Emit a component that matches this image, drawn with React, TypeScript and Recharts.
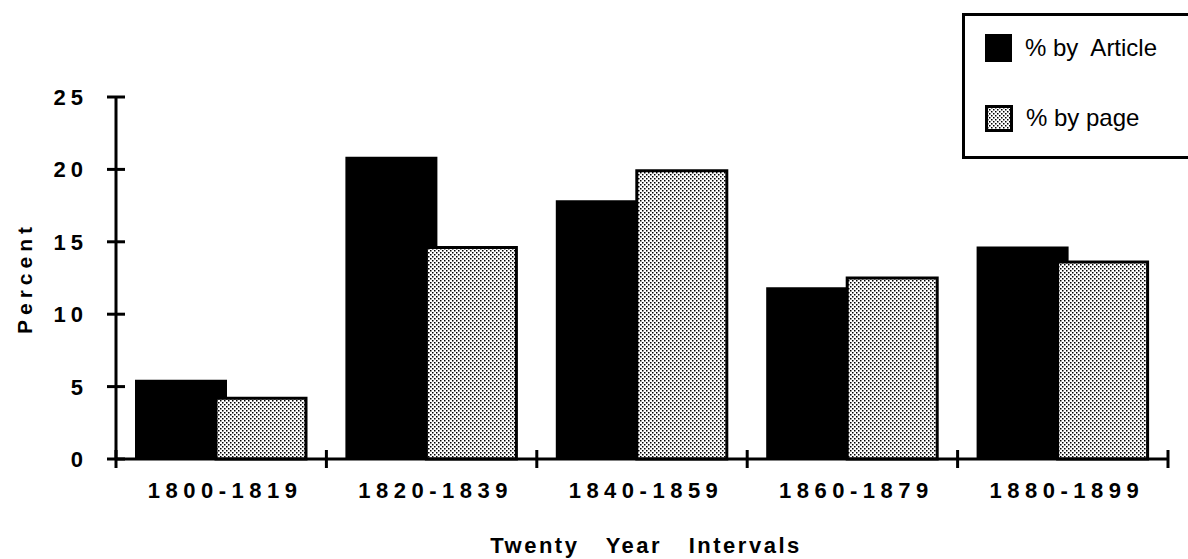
import { Bar, BarChart, Legend, XAxis, YAxis } from "recharts";

const categories = ["1800-1819", "1820-1839", "1840-1859", "1860-1879", "1880-1899"];
const byArticle = [5.4, 20.8, 17.8, 11.8, 14.6];
const byPage = [4.2, 14.6, 19.9, 12.5, 13.6];
const yTicks = [0, 5, 10, 15, 20, 25];

const data = categories.map((interval, i) => ({
  interval,
  article: byArticle[i],
  page: byPage[i],
}));

const W = 1188;
const H = 559;
const margin = { top: 97, right: 20, bottom: 0, left: 0 };
const Y_AXIS_W = 116;
const X_AXIS_H = 100;
const halfBand = (W - Y_AXIS_W - margin.right) / categories.length / 2;

const FONT = "'Liberation Sans', Arial, Helvetica, sans-serif";

function Stipple({ id }: { id: string }) {
  return (
    <pattern id={id} width="4" height="4" patternUnits="userSpaceOnUse">
      <rect width="4" height="4" fill="#fff" />
      <rect x="0" y="0" width="1.5" height="1.5" fill="#000" />
      <rect x="2" y="2" width="1.5" height="1.5" fill="#000" />
    </pattern>
  );
}

function YTick({ x, y, payload }: any) {
  return (
    <g>
      <line x1={x - 9} x2={x + 9} y1={y} y2={y} stroke="#000" strokeWidth={3} />
      <text
        x={x - 28}
        y={y}
        dy="0.36em"
        textAnchor="end"
        fontFamily={FONT}
        fontWeight="bold"
        fontSize={22}
        letterSpacing={5}
        fill="#000"
      >
        {payload.value}
      </text>
    </g>
  );
}

function XTick({ x, y, payload, index }: any) {
  const last = index === categories.length - 1;
  return (
    <g>
      <line x1={x - halfBand} x2={x - halfBand} y1={y - 9} y2={y + 9} stroke="#000" strokeWidth={3} />
      {last && (
        <line x1={x + halfBand} x2={x + halfBand} y1={y - 9} y2={y + 9} stroke="#000" strokeWidth={3} />
      )}
      <text
        x={x + 4}
        y={y + 39}
        textAnchor="middle"
        fontFamily={FONT}
        fontWeight="bold"
        fontSize={22}
        letterSpacing={5.5}
        fill="#000"
      >
        {payload.value}
      </text>
    </g>
  );
}

function renderLegend() {
  const row = (swatch: React.ReactNode, label: string, top: number) => (
    <div style={{ position: "absolute", left: 20, top, display: "flex", alignItems: "center" }}>
      {swatch}
      <span style={{ marginLeft: 13, fontFamily: FONT, fontSize: 24, color: "#000", whiteSpace: "pre" }}>
        {label}
      </span>
    </div>
  );
  return (
    <div
      style={{
        position: "relative",
        width: 230,
        height: 140,
        border: "3px solid #000",
        borderRight: "none",
        background: "#fff",
      }}
    >
      {row(<div style={{ width: 27, height: 28, background: "#000" }} />, "% by  Article", 18)}
      {row(
        <svg width={28} height={27}>
          <defs>
            <Stipple id="stipple-legend" />
          </defs>
          <rect x={1.5} y={1.5} width={25} height={24} fill="url(#stipple-legend)" stroke="#000" strokeWidth={3} />
        </svg>,
        "% by page",
        88
      )}
    </div>
  );
}

export default function App() {
  return (
    <div
      style={{
        position: "absolute",
        left: 0,
        top: 0,
        width: W,
        height: H,
        overflow: "hidden",
        background: "#fff",
      }}
    >
      <BarChart width={W} height={H} data={data} margin={margin} barGap={-10}>
        <defs>
          <Stipple id="stipple" />
        </defs>
        <XAxis
          dataKey="interval"
          height={X_AXIS_H}
          interval={0}
          axisLine={{ stroke: "#000", strokeWidth: 3 }}
          tickLine={false}
          tickSize={0}
          tickMargin={0}
          tick={<XTick />}
          label={{
            position: "insideBottom",
            content: ({ viewBox }: any) => (
              <text
                x={viewBox.x + viewBox.width / 2 + 4}
                y={viewBox.y + 94}
                textAnchor="middle"
                fontFamily={FONT}
                fontWeight="bold"
                fontSize={22}
                letterSpacing={2.5}
                wordSpacing={18}
                fill="#000"
              >
                Twenty Year Intervals
              </text>
            ),
          }}
        />
        <YAxis
          width={Y_AXIS_W}
          domain={[0, 25]}
          ticks={yTicks}
          interval={0}
          axisLine={{ stroke: "#000", strokeWidth: 3 }}
          tickLine={false}
          tickSize={0}
          tickMargin={0}
          tick={<YTick />}
          label={{
            position: "insideLeft",
            content: () => (
              <text
                x={24}
                y={278}
                transform="rotate(-90 24 278)"
                textAnchor="middle"
                dy="0.36em"
                fontFamily={FONT}
                fontWeight="bold"
                fontSize={21}
                letterSpacing={5}
                fill="#000"
              >
                Percent
              </text>
            ),
          }}
        />
        <Legend
          layout="horizontal"
          verticalAlign="middle"
          align="center"
          content={renderLegend}
          wrapperStyle={{ position: "absolute", left: 962, top: 13, width: 240, height: 146 }}
        />
        <Bar
          dataKey="article"
          name="% by Article"
          fill="#000"
          stroke="#000"
          strokeWidth={2}
          barSize={90}
          isAnimationActive={false}
        />
        <Bar
          dataKey="page"
          name="% by page"
          fill="url(#stipple)"
          stroke="#000"
          strokeWidth={3}
          barSize={90}
          isAnimationActive={false}
        />
      </BarChart>
    </div>
  );
}
